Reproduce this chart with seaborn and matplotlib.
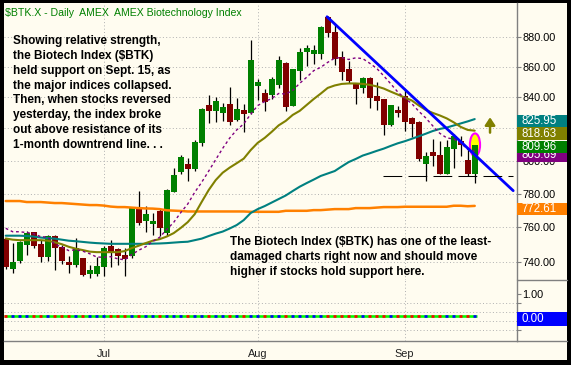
import matplotlib
matplotlib.use("Agg")
import matplotlib.pyplot as plt
import numpy as np
import pandas as pd
import seaborn as sns
from matplotlib.lines import Line2D
from matplotlib.patches import Ellipse, Rectangle
from matplotlib.ticker import NullLocator, NullFormatter

W, H = 571, 365
CREAM = "#FFFCF0"
GREEN = "#008000"
MAROON = "#800000"
ORANGE = "#FF8000"
TEAL = "#008080"
OLIVE = "#808000"
PURPLE = "#800080"
GRAY = "#808080"

sns.set_style("white")
plt.rcParams["font.family"] = ["Liberation Sans", "DejaVu Sans"]

# trading days Jun 11 - Sep 16 2008
dates = pd.bdate_range("2008-06-11", "2008-09-16")
dates = dates[~dates.isin(pd.to_datetime(["2008-07-04", "2008-09-01"]))]
idx = np.arange(len(dates))

opens = [753.0, 736.2, 740.7, 749.7, 757.0, 750.5, 742.7, 755.0, 748.6, 739.8,
         738.4, 742.2, 733.0, 733.2, 737.2, 749.3, 747.5, 743.8, 743.3, 770.8,
         763.4, 761.7, 769.5, 756.6, 781.2, 793.0, 797.9, 794.9, 810.7, 834.7,
         831.2, 830.1, 835.3, 825.6, 831.8, 830.1, 847.2, 842.6, 841.4, 847.8,
         862.5, 834.6, 857.0, 869.9, 868.4, 868.2, 893.7, 883.4, 866.6, 858.3,
         848.9, 845.7, 852.3, 840.8, 838.6, 822.0, 831.9, 841.0, 826.4, 823.9,
         797.9, 805.6, 803.6, 792.1, 807.1, 812.2, 800.4, 791.9]
highs = [754.0, 751.0, 752.0, 758.0, 757.5, 752.5, 755.5, 755.5, 749.5, 743.3,
         754.0, 742.5, 738.4, 742.7, 749.0, 752.4, 748.0, 748.0, 772.0, 781.3,
         772.4, 768.4, 770.5, 783.0, 795.6, 803.5, 801.9, 812.5, 833.0, 841.4,
         840.3, 836.5, 846.8, 839.3, 835.7, 877.8, 852.0, 845.3, 853.0, 867.0,
         863.0, 858.5, 872.1, 874.4, 874.4, 887.5, 894.0, 888.6, 870.6, 863.9,
         849.5, 853.3, 853.0, 850.1, 839.0, 835.0, 834.0, 845.0, 827.0, 824.5,
         805.6, 813.6, 812.2, 812.8, 816.5, 815.3, 807.7, 812.0]
lows = [736.0, 734.0, 739.4, 743.7, 748.0, 739.8, 740.4, 735.7, 738.6, 733.8,
        737.0, 732.3, 731.0, 732.0, 732.0, 737.0, 738.2, 732.0, 742.5, 761.6,
        757.3, 755.4, 755.0, 755.0, 780.8, 791.5, 787.3, 793.6, 809.0, 823.5,
        823.9, 824.5, 822.4, 825.0, 817.6, 829.0, 838.3, 830.8, 839.0, 846.0,
        830.8, 834.0, 851.1, 860.3, 861.6, 865.3, 880.0, 861.0, 851.1, 848.9,
        835.7, 842.6, 832.9, 831.7, 816.2, 821.5, 827.0, 818.2, 814.9, 800.0,
        787.6, 796.5, 791.5, 791.5, 795.5, 803.0, 790.6, 786.5]
closes = [737.3, 740.1, 751.3, 756.5, 749.0, 743.0, 755.0, 748.0, 740.7, 738.0,
          748.2, 732.7, 735.7, 737.5, 748.2, 745.8, 743.3, 741.5, 771.5, 762.8,
          767.6, 763.8, 759.8, 782.3, 790.9, 802.1, 794.7, 811.7, 832.2, 831.2,
          837.4, 833.8, 823.9, 832.6, 829.0, 864.3, 850.1, 837.0, 851.6, 864.3,
          833.5, 858.1, 869.9, 872.6, 871.1, 886.8, 882.7, 864.9, 856.5, 850.7,
          845.0, 852.3, 839.7, 837.8, 822.4, 834.8, 829.7, 823.9, 823.0, 800.9,
          802.6, 802.6, 792.1, 808.7, 815.3, 809.8, 791.5, 809.96]

ma10 = [759.4, 757.4, 757.4, 756.9, 756.3, 754.5, 754.3, 750.2, 748.5, 746.5,
        747.0, 746.2, 744.7, 742.8, 742.7, 743.0, 741.8, 741.2, 744.2, 746.7,
        748.7, 751.8, 754.2, 758.7, 762.9, 768.6, 773.7, 780.7, 786.8, 793.6,
        800.6, 807.6, 814.0, 819.1, 822.9, 829.1, 834.6, 837.2, 839.1, 842.4,
        842.0, 844.4, 849.0, 853.0, 857.3, 859.5, 862.8, 865.6, 866.0, 864.7,
        865.8, 865.3, 862.2, 858.8, 853.9, 848.7, 843.4, 839.3, 835.9, 831.0,
        826.7, 821.7, 817.0, 814.1, 813.4, 810.9, 807.0, 805.69]
ma20 = [753.5, 752.8, 752.5, 752.5, 752.5, 752.5, 752.2, 751.3, 750.2, 748.7,
        747.6, 746.8, 745.9, 745.6, 745.6, 745.6, 745.6, 746.2, 747.9, 749.3,
        750.8, 752.2, 753.1, 754.6, 756.6, 759.6, 763.0, 767.7, 775.0, 782.1,
        788.1, 792.6, 795.7, 798.4, 801.2, 806.5, 811.0, 814.1, 817.9, 822.0,
        824.8, 828.6, 831.2, 835.0, 838.8, 842.3, 846.0, 847.6, 848.6, 848.9,
        848.9, 848.6, 848.0, 847.0, 845.6, 843.6, 841.7, 839.8, 837.9, 834.7,
        831.8, 829.9, 828.3, 826.4, 823.9, 821.0, 819.1, 818.63]
ma50 = [755.1, 755.1, 755.1, 754.9, 754.6, 754.0, 753.7, 753.4, 752.8, 752.2,
        751.9, 751.5, 751.1, 750.8, 750.6, 750.4, 750.4, 750.4, 750.4, 750.4,
        750.4, 750.5, 750.6, 750.8, 751.1, 751.4, 751.6, 752.5, 753.4, 754.9,
        756.3, 757.5, 759.3, 761.3, 764.2, 768.4, 770.7, 772.5, 774.6, 776.7,
        778.8, 781.5, 784.1, 786.3, 788.4, 790.6, 792.1, 793.6, 796.4, 799.1,
        801.0, 803.1, 804.5, 806.0, 807.4, 809.1, 810.7, 812.0, 813.5, 815.1,
        816.7, 818.4, 819.7, 820.6, 821.9, 823.2, 824.5, 825.95]
ma200 = [775.5, 775.5, 775.5, 774.9, 774.9, 774.9, 774.6, 774.3, 774.3, 774.0,
         773.7, 773.4, 773.1, 773.1, 772.8, 772.2, 771.9, 771.9, 771.6, 771.3,
         771.1, 771.0, 770.7, 770.0, 769.8, 769.6, 769.3, 769.3, 769.3, 769.3,
         769.3, 769.3, 769.3, 769.3, 769.3, 769.1, 769.1, 769.1, 769.1, 769.1,
         769.7, 769.7, 769.7, 769.7, 770.1, 770.1, 770.4, 770.7, 770.7, 770.7,
         771.3, 771.3, 771.3, 771.6, 771.9, 771.9, 771.9, 772.1, 772.1, 772.1,
         772.1, 772.1, 772.1, 772.1, 772.7, 772.7, 772.4, 772.61]
indicator = [0.0] * len(closes)

price_ticks = [740, 760, 780, 800, 820, 840, 860, 880]
hidden_ticks = [820]  # covered by the value tags on the right

# drawn annotations
trend_x = [45.9, 72.5]
trend_y = [893.6, 781.7]
support_x = [53.9, 72.5]
support_y = [790.8, 790.8]

title = "$BTK.X - Daily  AMEX  AMEX Biotechnology Index"
note_top = ["Showing relative strength,", "the Biotech Index ($BTK)",
            "held support on Sept. 15, as", "the major indices collapsed.",
            "Then, when stocks reversed", "yesterday, the index broke",
            "out above resistance of its", "1-month downtrend line. . ."]
note_bottom = ["The Biotech Index ($BTK) has one of the least-",
               "damaged charts right now and should move",
               "higher if stocks hold support here."]


def fx(px):
    return px / W


def fy(py):
    return 1 - py / H


fig = plt.figure(figsize=(W / 100, H / 100), dpi=100, facecolor="black")
fig.add_artist(Rectangle((fx(4), fy(360)), fx(567) - fx(4), fy(3) - fy(360),
                         transform=fig.transFigure, facecolor=CREAM,
                         edgecolor="none", zorder=-10))

ax = fig.add_axes([fx(4), fy(280), fx(516.5) - fx(4), fy(3) - fy(280)])
ax2 = fig.add_axes([fx(4), fy(341), fx(516.5) - fx(4), fy(280) - fy(341)])
for a in (ax, ax2):
    a.set_facecolor(CREAM)
    a.set_xlim(-0.243, 72.97)
    for s in ("top", "left", "bottom"):
        a.spines[s].set_visible(False)
    a.spines["right"].set_color(GRAY)
    a.spines["right"].set_linewidth(1.0)
ax2.spines["bottom"].set_visible(True)
ax2.spines["bottom"].set_color(GRAY)
ax2.spines["bottom"].set_linewidth(1.0)

ax.set_yscale("log")
ax.set_ylim(729.8, 903.1)

# candles
o = np.array(opens)
c = np.array(closes)
body_col = np.where(c >= o, GREEN, MAROON)
ax.vlines(idx, lows, highs, color="black", lw=0.9, zorder=2)
ax.bar(idx, np.abs(c - o), bottom=np.minimum(o, c), width=0.8,
       color=body_col, linewidth=0, zorder=2.5)

# highlight around last bar
ax.add_patch(Ellipse((67.04, 809.75), 1.45, 14.3, facecolor="#FFFF00",
                     edgecolor="#FF00FF", lw=1.5, zorder=2.2))

ma = pd.DataFrame({"idx": idx, "ma10": ma10, "ma20": ma20,
                   "ma50": ma50, "ma200": ma200})
sns.lineplot(data=ma, x="idx", y="ma200", ax=ax, color=ORANGE, lw=1.8, zorder=3)
sns.lineplot(data=ma, x="idx", y="ma50", ax=ax, color=TEAL, lw=1.5, zorder=3)
sns.lineplot(data=ma, x="idx", y="ma20", ax=ax, color=OLIVE, lw=1.5, zorder=3)
sns.lineplot(data=ma, x="idx", y="ma10", ax=ax, color=PURPLE, lw=1.0,
             linestyle=(0, (2, 2)), zorder=3)

sns.lineplot(x=trend_x, y=trend_y, ax=ax, color="#0000FF", lw=2.0, zorder=4)
ax.plot(support_x, support_y, color="black", lw=0.75,
        linestyle=(0, (18, 6)), zorder=4)

ax.annotate("", xy=(69.19, 827.1), xytext=(69.19, 817.4),
            arrowprops=dict(arrowstyle="-|>,head_length=0.45,head_width=0.3",
                            color=OLIVE, lw=1.8, shrinkA=0, shrinkB=0),
            zorder=4)

# grids
grid_kw = dict(color="#B4B4B4", lw=0.72, linestyle=(0, (1, 2.3)), zorder=0.5)
for p in price_ticks:
    ax.axhline(p, **grid_kw)
month_start = [i for i in idx if i == 0 or dates[i].month != dates[i - 1].month][1:]
for m in month_start:
    ax.axvline(m, **grid_kw)
    ax2.axvline(m, **grid_kw)
for g in [0.6, 0.2, -0.2, -0.6]:
    ax2.axhline(g, **grid_kw)

# y ticks
ax.yaxis.tick_right()
ax.set_yticks(price_ticks, labels=["" if p in hidden_ticks else f"{p:.2f}"
                                   for p in price_ticks])
ax.yaxis.set_minor_locator(NullLocator())
ax.yaxis.set_minor_formatter(NullFormatter())
ax.tick_params(axis="y", which="major", length=3, width=0.8, color=GRAY,
               pad=1, labelsize=7.8, labelcolor="black")
ax.tick_params(axis="x", which="both", length=0, labelbottom=False)
ax.set_xlabel("")
ax.set_ylabel("")

# lower indicator panel
ax2.set_ylim(-1.09, 1.62)
ax2.hlines(indicator[0], -0.243, idx[-1] + 0.35, color="#00FF00", lw=1.9, zorder=3)
ax2.hlines(indicator, idx - 0.19, idx + 0.19,
           colors=np.where(c >= o, "#0000FF", "#FF0000"), lw=1.9, zorder=3.5)
ax2.yaxis.tick_right()
ax2.set_yticks([1.0, 0.6, 0.0, -0.6], labels=["1.00", "", "", ""])
ax2.tick_params(axis="y", length=3, width=0.8, color=GRAY, pad=1,
                labelsize=7.8, labelcolor="black")

mondays = [i for i in idx if dates[i].dayofweek == 0
           and (i + 1) not in month_start and i not in month_start]
ax2.set_xticks(month_start, labels=[dates[m].strftime("%b") for m in month_start])
ax2.set_xticks(mondays, minor=True)
ax2.tick_params(axis="x", which="major", length=4.5, width=0.8, color=GRAY,
                pad=1, labelsize=7.8, labelcolor="#202020")
ax2.tick_params(axis="x", which="minor", length=2.2, width=0.8, color=GRAY)

# right-hand edge lines in the label column
for yy in (280, 341):
    fig.add_artist(Line2D([fx(516.5), fx(567)], [fy(yy), fy(yy)],
                          transform=fig.transFigure, color=GRAY, lw=1.0))

# value tags
tags = [
    (f"{ma200[-1]:.2f}", ORANGE, 202.7, 215.0),
    (f"{ma10[-1]:.2f}", PURPLE, 149.0, 161.5),
    (f"{closes[-1]:.2f}", GREEN, 140.7, 153.3),
    (f"{ma20[-1]:.2f}", OLIVE, 127.3, 140.0),
    (f"{ma50[-1]:.2f}", TEAL, 115.0, 127.3),
    (f"{indicator[-1]:.2f}", "#0000FF", 311.7, 325.7),
]
for k, (txt, col, top, bot) in enumerate(tags):
    z = 5 + k
    fig.add_artist(Rectangle((fx(516.7), fy(bot)), fx(566.7) - fx(516.7),
                             fy(top) - fy(bot), transform=fig.transFigure,
                             facecolor=col, edgecolor="none", zorder=z))
    fig.text(fx(521.7), fy((top + bot) / 2), txt, color="white", fontsize=8.3,
             va="center", ha="left", zorder=z + 0.5)

# texts
fig.text(fx(5), fy(15.7), title, color=GREEN, fontsize=7.6, va="baseline")
for k, line in enumerate(note_top):
    fig.text(fx(12.7), fy(44.3 + 14.76 * k), line, fontsize=8.5,
             fontweight="bold", color="black", va="baseline")
for k, line in enumerate(note_bottom):
    fig.text(fx(230.5), fy(245.3 + 14.76 * k), line, fontsize=8.5,
             fontweight="bold", color="black", va="baseline")

fig.savefig("out.png", dpi=100, facecolor=fig.get_facecolor())
